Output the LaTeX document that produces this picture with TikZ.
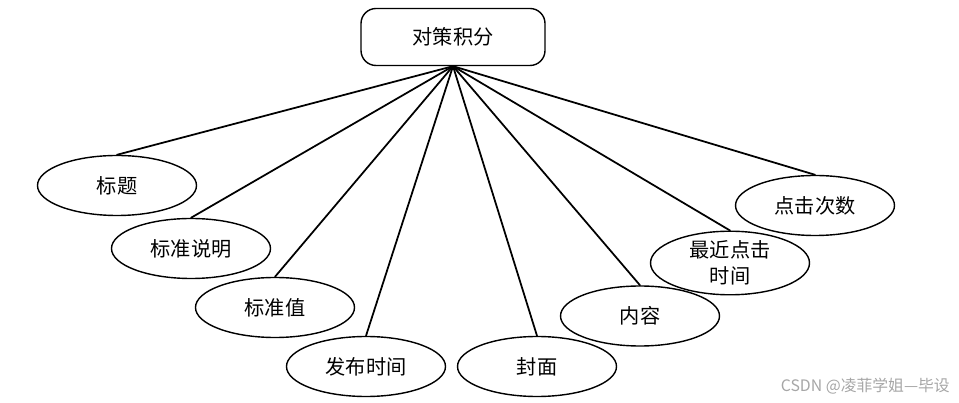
\documentclass[tikz,border=0pt]{standalone}
\usepackage{fontspec}
\newfontfamily\cjk{Noto Sans CJK SC}
\usetikzlibrary{shapes.geometric}
\begin{document}
\begin{tikzpicture}[font=\cjk\fontsize{11.5pt}{15pt}\selectfont, line join=round, line cap=round,
		attr/.style={ellipse, draw, line width=0.8pt, minimum width=3.18cm, minimum height=1.2cm, inner sep=0pt, align=center},
		entity/.style={rectangle, rounded corners=0.3cm, draw, line width=0.8pt, minimum width=3.68cm, minimum height=1.14cm}]
			\useasboundingbox (0,0) rectangle (19.18,8.06);
			\node[entity] (jf) at (9.06,7.32) {对策积分};
			\node[attr] (bt) at (2.34,4.35) {标题};
			\node[attr] (bzsm) at (3.82,3.09) {标准说明};
			\node[attr] (bzz) at (5.50,1.91) {标准值};
			\node[attr] (fbsj) at (7.32,0.73) {发布时间};
			\node[attr] (fm) at (10.74,0.73) {封面};
			\node[attr] (nr) at (12.80,1.74) {内容};
			\node[attr] (djsj) at (14.60,2.80) {最近点击\\时间};
			\node[attr] (djcs) at (16.30,3.95) {点击次数};
			\foreach \a in {bt,bzsm,bzz,fbsj,fm,nr,djsj,djcs}\draw[line width=1pt] (jf.south)--(\a.north);
			%watermark
			\node[text=black!35, font=\cjk\fontsize{9pt}{11pt}\selectfont, anchor=east] (wm) at (19.12,0.34) {CSDN @凌菲学姐—毕设};
		\end{tikzpicture}
\end{document}
